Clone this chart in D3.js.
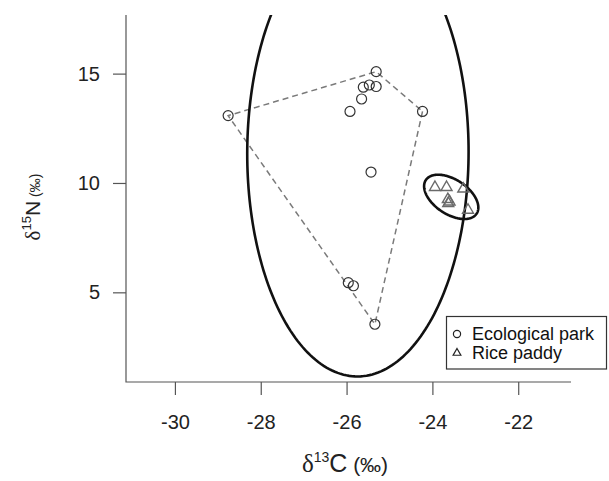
<!DOCTYPE html>
<html>
<head>
<meta charset="utf-8">
<script src="https://cdn.jsdelivr.net/npm/d3@7"></script>
<style>
  html, body { margin: 0; padding: 0; background: #fff; }
  svg { display: block; font-family: "Liberation Sans", Arial, sans-serif; }
</style>
</head>
<body>
<script>
// isotope values
const parkC = [-28.76, -25.31, -25.61, -25.47, -25.31, -25.65, -25.92, -24.23, -25.43, -25.96, -25.84, -25.34];
const parkN = [13.08, 15.09, 14.38, 14.48, 14.41, 13.84, 13.27, 13.27, 10.50, 5.44, 5.30, 3.54];
const paddyC = [-23.94, -23.67, -23.28, -23.64, -23.60, -23.63, -23.17];
const paddyN = [9.80, 9.80, 9.73, 9.25, 9.14, 9.07, 8.76];
const xTicks = [-30, -28, -26, -24, -22];
const yTicks = [5, 10, 15];
const legendLabels = ['Ecological park', 'Rice paddy'];

const width = 609, height = 481;
const plotL = 126, plotR = 571, plotT = 15, plotB = 382;

const x = d3.scaleLinear().domain([-31.14, -20.77]).range([plotL, plotR]);
const y = d3.scaleLinear().domain([0.9, 17.68]).range([plotB, plotT]);

const svg = d3.select('body').append('svg')
    .attr('width', width)
    .attr('height', height);

svg.append('clipPath').attr('id', 'plot')
  .append('rect')
    .attr('x', plotL).attr('y', plotT)
    .attr('width', plotR - plotL).attr('height', plotB - plotT);

const park = parkC.map((c, i) => [c, parkN[i]]);
const paddy = paddyC.map((c, i) => [c, paddyN[i]]);

// 95% data ellipse from the group covariance
function dataEllipse(pts, k = Math.sqrt(5.991)) {
    const mx = d3.mean(pts, d => d[0]), my = d3.mean(pts, d => d[1]);
    const n = pts.length - 1;
    const a = d3.sum(pts, d => (d[0] - mx) ** 2) / n;
    const c = d3.sum(pts, d => (d[1] - my) ** 2) / n;
    const b = d3.sum(pts, d => (d[0] - mx) * (d[1] - my)) / n;
    const l11 = Math.sqrt(a), l21 = b / l11, l22 = Math.sqrt(c - l21 * l21);
    return d3.range(0, 2 * Math.PI, Math.PI / 120).map(t => {
        const u = Math.cos(t), v = Math.sin(t);
        return [mx + k * l11 * u, my + k * (l21 * u + l22 * v)];
    });
}

const g = svg.append('g').attr('clip-path', 'url(#plot)');
const line = d3.line().x(d => x(d[0])).y(d => y(d[1])).curve(d3.curveLinearClosed);

// convex hull of the park samples
g.append('path')
    .attr('d', line(d3.polygonHull(park)))
    .attr('fill', 'none')
    .attr('stroke', '#7a7a7a')
    .attr('stroke-width', 1.5)
    .attr('stroke-dasharray', '6,4');

[park, paddy].forEach(pts => {
    g.append('path')
        .attr('d', line(dataEllipse(pts)))
        .attr('fill', 'none')
        .attr('stroke', '#111')
        .attr('stroke-width', 2.6);
});

g.selectAll('circle.park')
  .data(park)
  .join('circle')
    .attr('class', 'park')
    .attr('cx', d => x(d[0]))
    .attr('cy', d => y(d[1]))
    .attr('r', 5)
    .attr('fill', 'none')
    .attr('stroke', '#333')
    .attr('stroke-width', 1.2);

const tri = d3.symbol().type(d3.symbolTriangle).size(52);
g.selectAll('path.paddy')
  .data(paddy)
  .join('path')
    .attr('class', 'paddy')
    .attr('transform', d => `translate(${x(d[0])},${y(d[1])})`)
    .attr('d', tri)
    .attr('fill', 'none')
    .attr('stroke', '#6a6a6a')
    .attr('stroke-width', 1.4);

// axes (L-shaped box)
const axisColor = '#555';
svg.append('path')
    .attr('d', `M${plotL},${plotT}V${plotB}H${plotR}`)
    .attr('fill', 'none')
    .attr('stroke', axisColor)
    .attr('stroke-width', 1.2);

const xAxis = svg.append('g').attr('transform', `translate(0,${plotB})`)
    .call(d3.axisBottom(x).tickValues(xTicks).tickSize(13).tickPadding(20).tickFormat(d3.format('d')));
const yAxis = svg.append('g').attr('transform', `translate(${plotL},0)`)
    .call(d3.axisLeft(y).tickValues(yTicks).tickSize(13).tickPadding(13));
[xAxis, yAxis].forEach(ax => {
    ax.select('.domain').remove();
    ax.selectAll('.tick line').attr('stroke', axisColor).attr('stroke-width', 1.2);
    ax.selectAll('.tick text')
        .attr('fill', '#222')
        .style('font-family', '"Liberation Sans", Arial, sans-serif')
        .style('font-size', '20px');
});
xAxis.selectAll('.tick text').text(d => d < 0 ? '-' + Math.abs(d) : d);

// axis titles
const xt = svg.append('text')
    .attr('x', 345).attr('y', 472)
    .attr('text-anchor', 'middle')
    .attr('fill', '#222');
xt.append('tspan').style('font-family', '"Liberation Serif", serif').style('font-size', '25px').text('δ');
xt.append('tspan').attr('dy', -10).style('font-size', '14px').text('13');
xt.append('tspan').attr('dy', 10).style('font-size', '25px').text('C');
xt.append('tspan').style('font-size', '21px').text(' (‰)');

const yt = svg.append('text')
    .attr('transform', 'translate(40,207) rotate(-90)')
    .attr('text-anchor', 'middle')
    .attr('fill', '#222');
yt.append('tspan').style('font-family', '"Liberation Serif", serif').style('font-size', '21px').text('δ');
yt.append('tspan').attr('dy', -9).style('font-size', '13px').text('15');
yt.append('tspan').attr('dy', 9).style('font-size', '21px').text('N');
yt.append('tspan').style('font-size', '14px').text(' (‰)');

// legend
const lg = svg.append('g');
lg.append('rect')
    .attr('x', 446.5).attr('y', 316.5)
    .attr('width', 160).attr('height', 52.5)
    .attr('fill', '#fff')
    .attr('stroke', '#333')
    .attr('stroke-width', 1.2);
const items = lg.selectAll('g.item')
  .data(legendLabels)
  .join('g')
    .attr('class', 'item')
    .attr('transform', (d, i) => `translate(457,${334 + i * 19})`);
items.filter((d, i) => i === 0).append('circle')
    .attr('r', 3.6).attr('fill', 'none').attr('stroke', '#222').attr('stroke-width', 1.2);
items.filter((d, i) => i === 1).append('path')
    .attr('d', d3.symbol().type(d3.symbolTriangle).size(26))
    .attr('fill', 'none').attr('stroke', '#222').attr('stroke-width', 1.2);
items.append('text')
    .attr('x', 15)
    .attr('dy', '0.36em')
    .attr('fill', '#111')
    .style('font-size', '18px')
    .text(d => d);
</script>
</body>
</html>
